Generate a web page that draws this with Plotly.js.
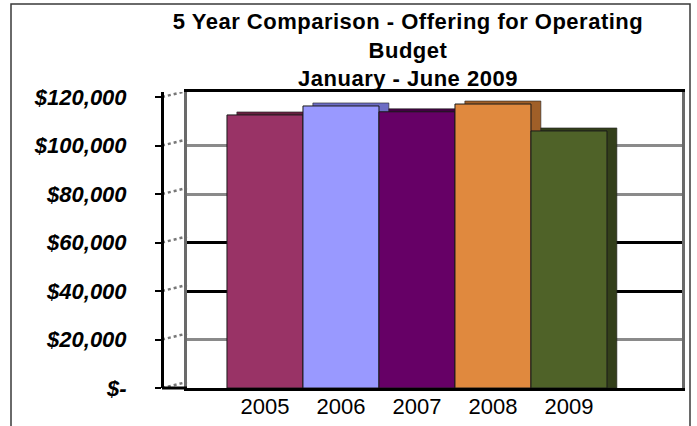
<!DOCTYPE html>
<html>
<head>
<meta charset="utf-8">
<script src="https://cdn.plot.ly/plotly-3.0.1.min.js"></script>
<style>html,body{margin:0;padding:0;background:#fff;}#chart{width:697px;height:426px;}.gtitle{letter-spacing:0.5px;}</style>
</head>
<body>
<div id="chart"></div>
<script>
// ---- data ----
const years = ['2005', '2006', '2007', '2008', '2009'];
const offerings = [112600, 116300, 113900, 117100, 106000];
const frontColors = ['#993366', '#9999FF', '#660066', '#E0893E', '#4F6228'];
const sideColors = ['#66203F', '#6C6CC4', '#420042', '#A05F28', '#333F1A'];
const yTickVals = [0, 20000, 40000, 60000, 80000, 100000, 120000];
const yTickText = ['$-', '$20,000', '$40,000', '$60,000', '$80,000', '$100,000', '$120,000'];
const grayGridVals = [20000, 80000, 100000];
const blackGridVals = [40000, 60000];

const W = 697, H = 426;
const yMax = 122060;
const depthValue = 1240; // 3D depth of bar tops in value units
const frontX = 162 / W, backX = 187 / W;

const sideTrace = {
  type: 'bar', x: years, y: offerings.map(v => v + depthValue),
  offset: -0.37, width: 1,
  marker: {color: sideColors, line: {color: '#222', width: 0.6}},
  hoverinfo: 'skip', showlegend: false
};
const frontTrace = {
  type: 'bar', x: years, y: offerings,
  offset: -0.5, width: 1,
  marker: {color: frontColors, line: {color: '#1a1a1a', width: 1}},
  showlegend: false
};
const gridTrace2 = {type: 'scatter', x: [], y: [], yaxis: 'y2', showlegend: false};
const gridTrace3 = {type: 'scatter', x: [], y: [], yaxis: 'y3', showlegend: false};

// left side-wall decoration (slanted tick connectors)
const wallShapes = yTickVals.map(v => ({
  type: 'line', xref: 'paper', yref: 'y', x0: frontX, x1: backX, y0: v, y1: v + depthValue * 2,
  line: {color: '#777', width: 2.5, dash: 'dot'}, layer: 'below'
}));

const font = 'Liberation Sans, Arial, sans-serif';
const yDomain = [(H - 388) / H, (H - 92) / H];
const layout = {
  width: W, height: H,
  margin: {l: 0, r: 0, t: 0, b: 0},
  paper_bgcolor: '#ffffff', plot_bgcolor: 'rgba(0,0,0,0)',
  barmode: 'overlay',
  showlegend: false,
  title: {
    text: '5 Year Comparison - Offering for Operating<br>Budget<br>January - June 2009',
    x: 408 / W, xanchor: 'center', xref: 'paper',
    y: (H - 29) / H, yanchor: 'top', yref: 'paper',
    font: {family: font, size: 22, weight: 'bold', color: '#000'}
  },
  xaxis: {
    type: 'category', domain: [187 / W, 682 / W], range: [-1.026, 5.487],
    showline: true, linecolor: '#000', linewidth: 3, mirror: true,
    ticks: '', showgrid: false, zeroline: false, ticklabelstandoff: -3,
    tickfont: {family: font, size: 22, color: '#000'}
  },
  yaxis: {
    domain: yDomain, range: [0, yMax], anchor: 'free', position: frontX,
    showline: true, linecolor: '#000', linewidth: 3,
    ticks: 'outside', ticklen: 6, tickwidth: 2, tickcolor: '#000',
    tickvals: yTickVals, ticktext: yTickText, ticklabelstandoff: 24,
    showgrid: false, zeroline: false,
    tickfont: {family: font, size: 22, weight: 'bold', style: 'italic', color: '#000'}
  },
  yaxis2: {
    domain: yDomain, range: [0, yMax], overlaying: 'y', anchor: 'x',
    showline: true, linecolor: '#6a6a6a', linewidth: 3, mirror: true,
    tickvals: grayGridVals, showticklabels: false, ticks: '',
    showgrid: true, gridcolor: '#8a8a8a', gridwidth: 3, zeroline: false
  },
  yaxis3: {
    domain: yDomain, range: [0, yMax], overlaying: 'y', anchor: 'x',
    showline: false, tickvals: blackGridVals, showticklabels: false, ticks: '',
    showgrid: true, gridcolor: '#000', gridwidth: 3, zeroline: false
  },
  shapes: [
    {type: 'rect', xref: 'paper', yref: 'paper', x0: 11 / W, x1: 690 / W, y0: -0.05, y1: (H - 4) / H,
     line: {color: '#3a3a3a', width: 1.5}, fillcolor: 'rgba(0,0,0,0)', layer: 'below'},
    {type: 'line', xref: 'paper', yref: 'paper', x0: frontX, x1: backX, y0: yDomain[0], y1: yDomain[0],
     line: {color: '#000', width: 3}}
  ].concat(wallShapes)
};

Plotly.newPlot('chart', [gridTrace2, gridTrace3, sideTrace, frontTrace], layout,
  {staticPlot: true, displayModeBar: false});
</script>
</body>
</html>
